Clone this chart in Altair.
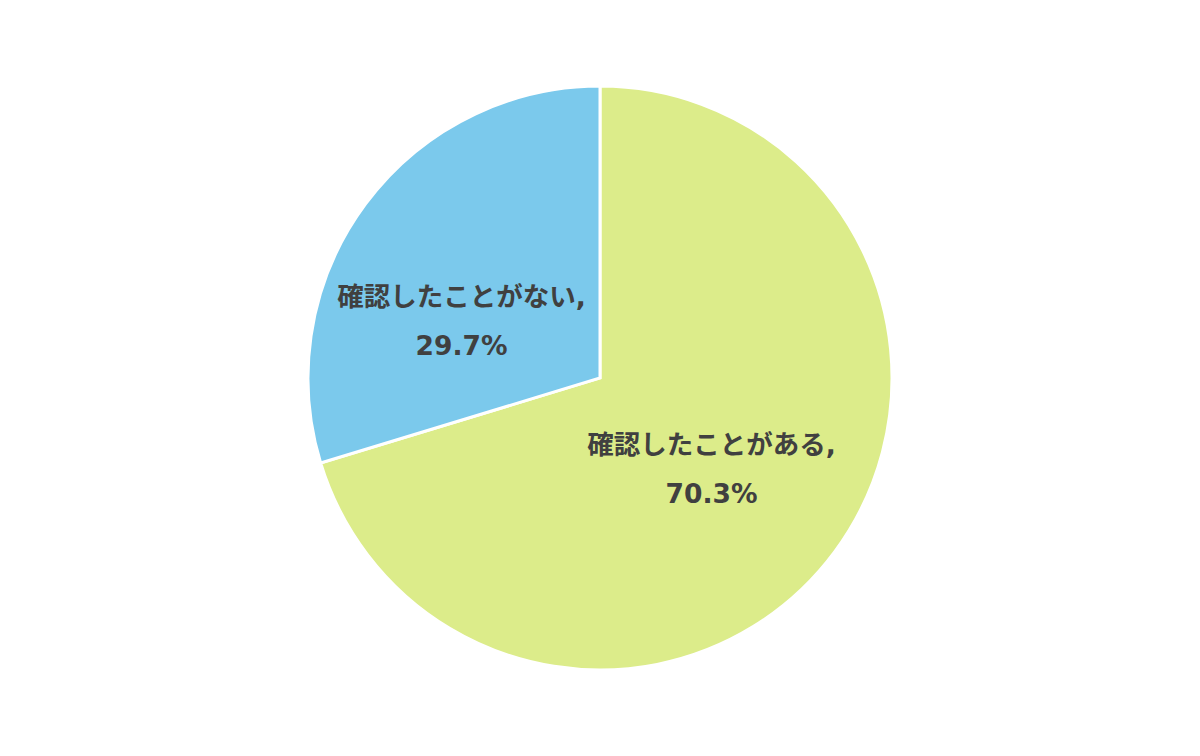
import altair as alt
import pandas as pd

categories = ["確認したことがある", "確認したことがない"]
values = [70.3, 29.7]
colors = ["#DCEC8A", "#7BC9EC"]

df = pd.DataFrame({
    "category": categories,
    "value": values,
    "order": [0, 1],
})
df["label"] = df.apply(lambda r: f"{r['category']},\n{r['value']:.1f}%", axis=1)

pie = alt.Chart(df).mark_arc(outerRadius=292, stroke="white", strokeWidth=3).encode(
    theta=alt.Theta("value:Q", stack=True),
    order=alt.Order("order:Q"),
    color=alt.Color("category:N", scale=alt.Scale(domain=categories, range=colors), legend=None),
)

label_base = alt.Chart(df).transform_window(
    cum="sum(value)", sort=[alt.SortField("order")]
).transform_calculate(
    mid="datum.cum - datum.value / 2"
)

def label_layer(cat, radius, dx, dy):
    return label_base.transform_filter(alt.datum.category == cat).mark_text(
        radius=radius, dx=dx, dy=dy,
        font="DejaVu Sans, Noto Sans CJK JP", fontSize=26.5, fontWeight="bold", color="#404040",
        lineBreak="\n", lineHeight=49, align="center", baseline="middle",
    ).encode(
        theta=alt.Theta("mid:Q", scale=alt.Scale(domain=[0, 100]), stack=None),
        text="label:N",
    )

labels_a = label_layer("確認したことがある", 150, -9, -21)
labels_b = label_layer("確認したことがない", 150, -18, 9)

chart = alt.layer(pie, labels_a, labels_b).resolve_scale(theta="independent").properties(
    width=1184, height=740,
    autosize=alt.AutoSizeParams(type="fit", contains="padding"),
).configure_view(stroke=None)

chart.save("out.html", embed_options={"renderer": "svg", "actions": False})
